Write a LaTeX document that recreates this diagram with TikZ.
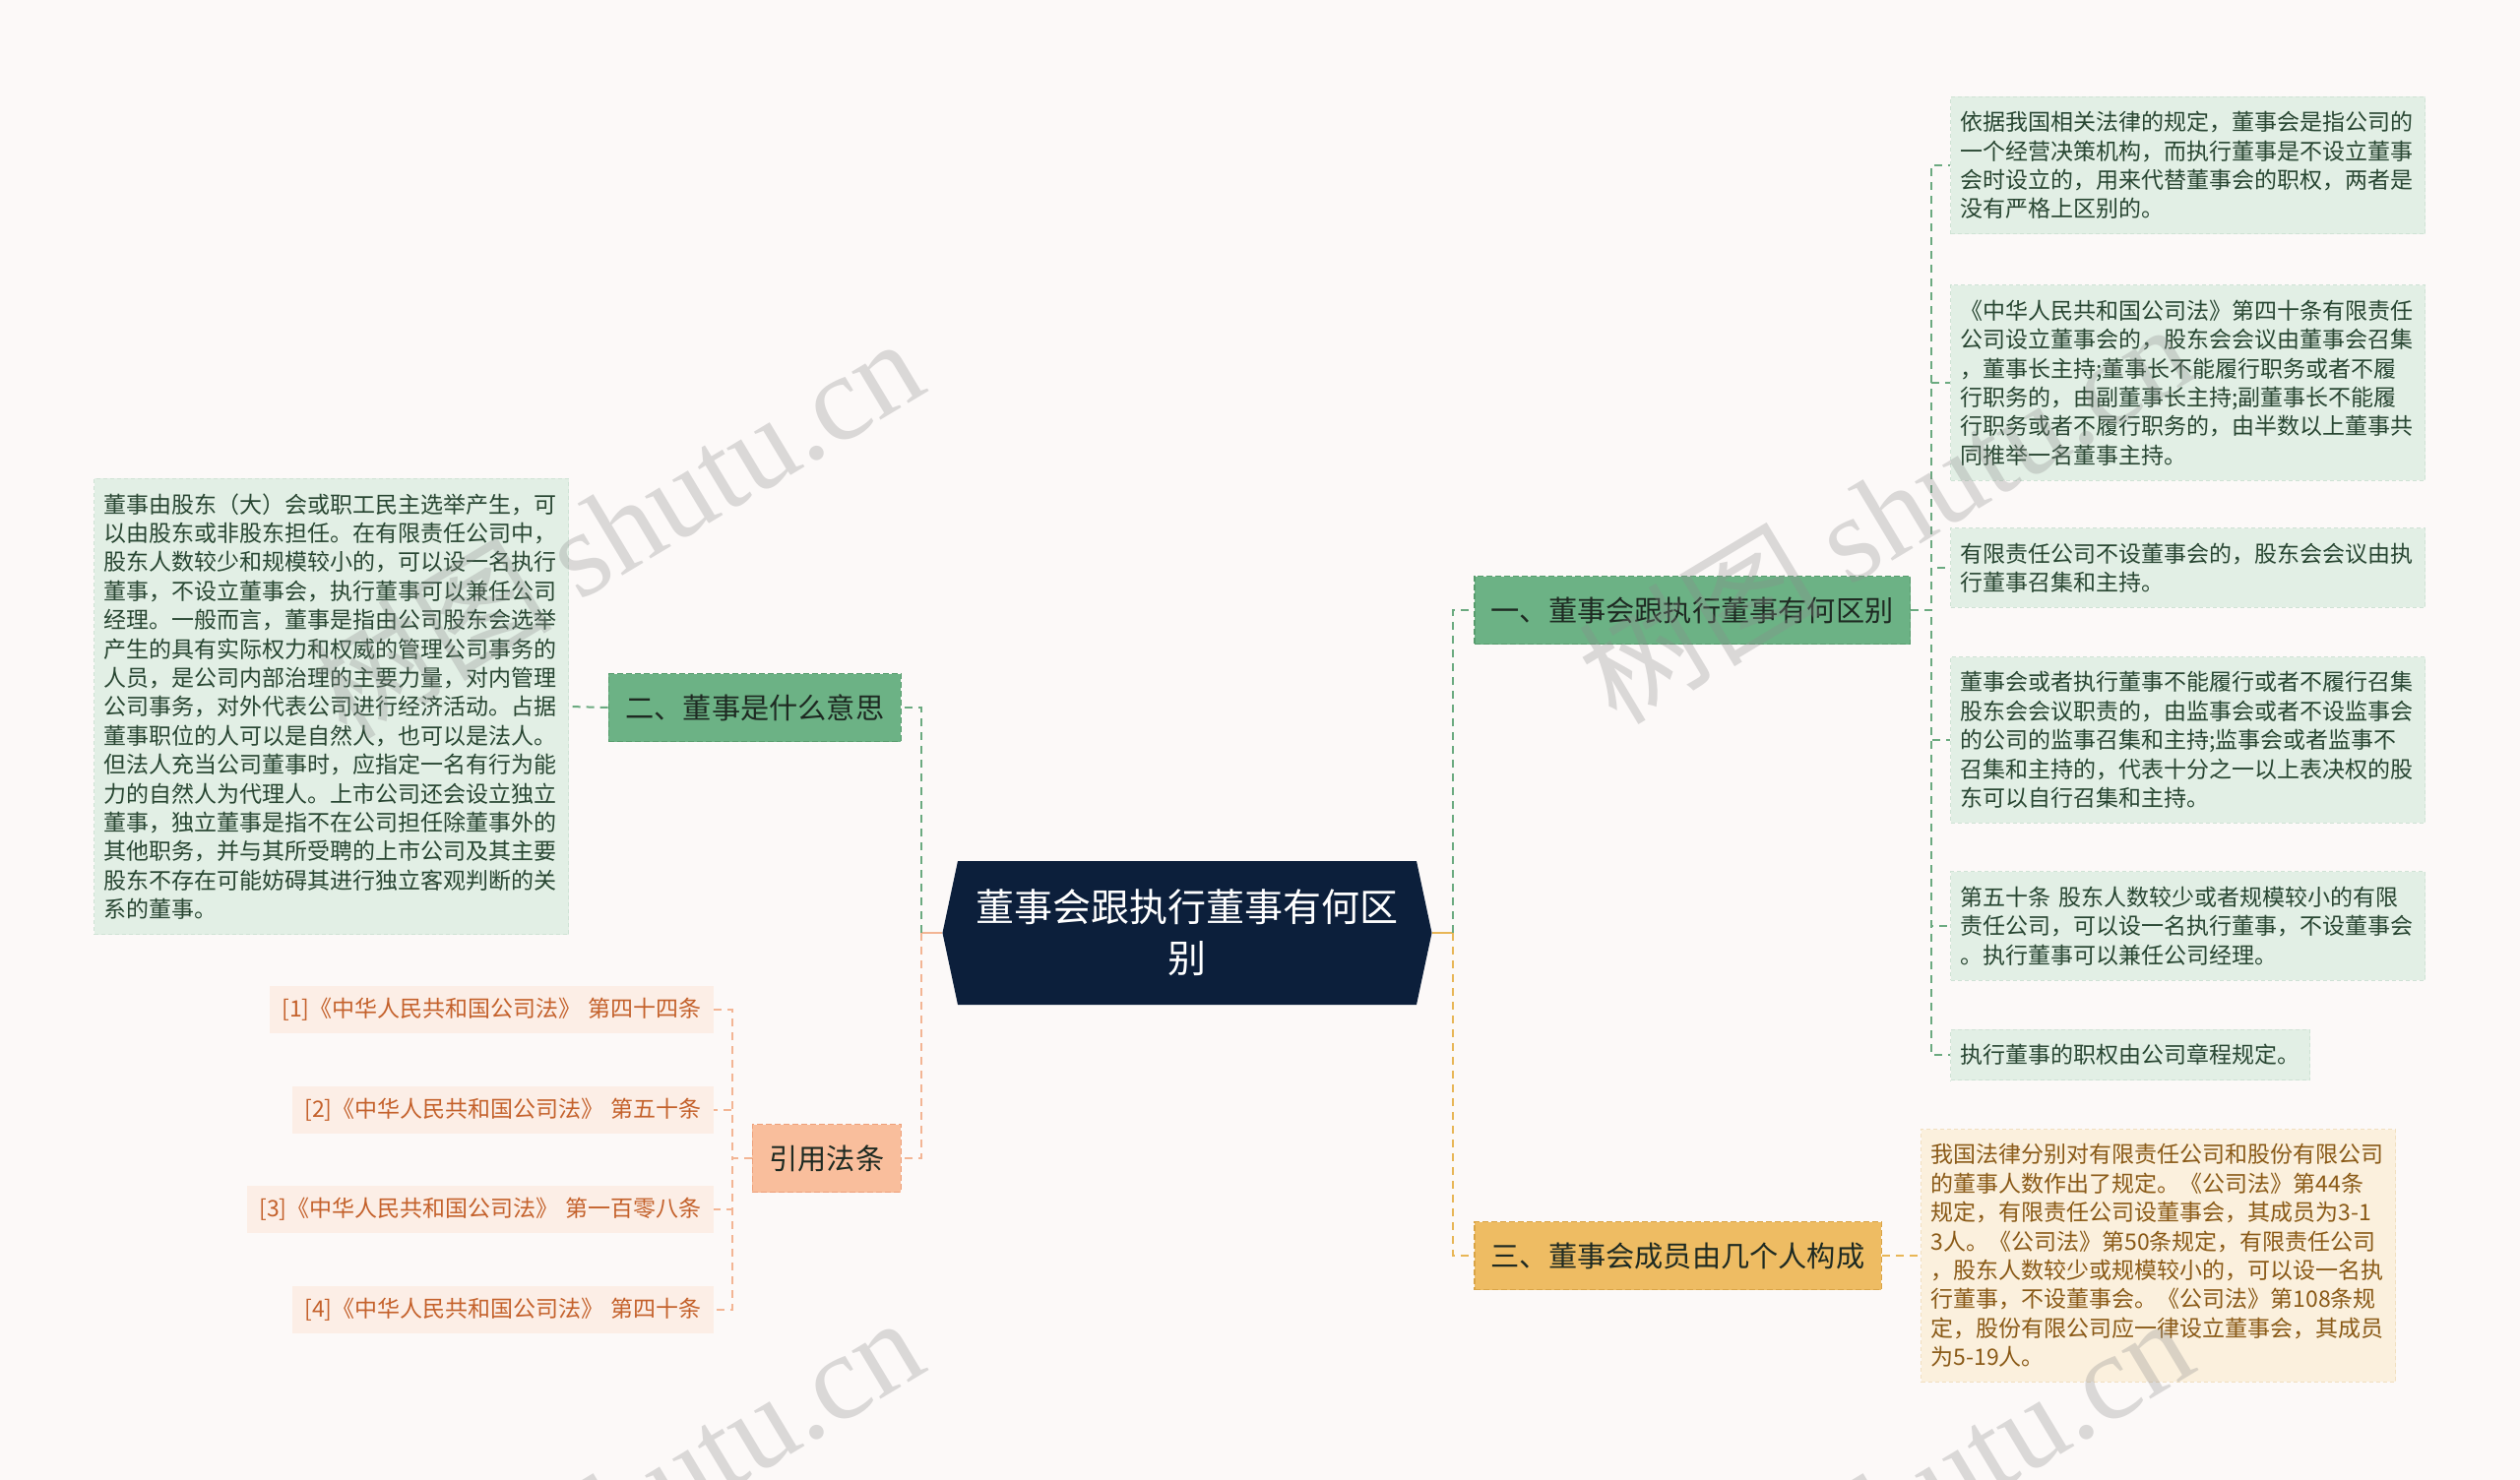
\documentclass[tikz,border=0pt]{standalone}
\usepackage{fontspec}
\setmainfont{Noto Sans CJK SC}
\newfontfamily\wmfont{Liberation Serif}
\usetikzlibrary{positioning,shapes.symbols}

\definecolor{bgcol}{HTML}{FCF9F8}
\definecolor{navy}{HTML}{0C1F3B}
\definecolor{greenfill}{HTML}{6CB285}
\definecolor{greenedge}{HTML}{579C6D}
\definecolor{goldfill}{HTML}{EEBC63}
\definecolor{goldedge}{HTML}{D9A446}
\definecolor{peachfill}{HTML}{F9BE9C}
\definecolor{peachedge}{HTML}{EEA07A}
\definecolor{branchtext}{HTML}{1E2A22}
\definecolor{leafgreen}{HTML}{E2EFE5}
\definecolor{leafgreenedge}{HTML}{CFE2D5}
\definecolor{leafgreentext}{HTML}{284632}
\definecolor{leafgold}{HTML}{FBF0DD}
\definecolor{leafgoldedge}{HTML}{F1DFC0}
\definecolor{leafgoldtext}{HTML}{8A5A17}
\definecolor{citefill}{HTML}{FCEEE6}
\definecolor{citetext}{HTML}{C4612B}
\definecolor{greenline}{HTML}{6BAA80}
\definecolor{goldline}{HTML}{E8B656}
\definecolor{peachline}{HTML}{F3B594}
\definecolor{wmgray}{HTML}{8C8C8C}

\tikzset{
  rootnode/.style={shape=signal, signal to=west and east, signal pointer angle=156,
    fill=navy, text=white, font=\fontsize{19.5}{26}\selectfont,
    text width=215pt, align=center, inner xsep=9pt, inner ysep=4pt, minimum height=73pt},
  branch/.style={font=\fontsize{14.6}{18}\selectfont, text=branchtext, inner xsep=8.5pt,
    minimum height=34.5pt, line width=.75pt, dash pattern=on 3pt off 1.5pt},
  greenbranch/.style={branch, fill=greenfill, draw=greenedge},
  goldbranch/.style={branch, fill=goldfill, draw=goldedge},
  peachbranch/.style={branch, fill=peachfill, draw=peachedge},
  leaf/.style={font=\fontsize{11.5}{14.7}\selectfont, align=left, text width=231pt,
    inner xsep=5pt, inner ysep=7.5pt, line width=.5pt, dash pattern=on 2pt off 1.5pt},
  greenleaf/.style={leaf, fill=leafgreen, draw=leafgreenedge, text=leafgreentext},
  goldleaf/.style={leaf, fill=leafgold, draw=leafgoldedge, text=leafgoldtext},
  citebox/.style={font=\fontsize{11.5}{14.7}\selectfont, fill=citefill, text=citetext,
    inner xsep=6pt, inner ysep=6.2pt},
  link/.style={line width=1pt, dash pattern=on 4pt off 3pt},
  stem/.style={line width=1pt},
  wmark/.style={rotate=31, text=wmgray, opacity=.3, font=\fontsize{62}{68}\selectfont}
}

\begin{document}
\begin{tikzpicture}[x=0.5pt,y=-0.5pt]
\useasboundingbox (0,0) rectangle (2560,1504);
\clip (0,0) rectangle (2560,1504);
\fill[bgcol] (0,0) rectangle (2560,1504);

% centre
\node[rootnode] (root) at (1206,948) {董事会跟执行董事有何区\\别};
\coordinate (jr) at ([xshift=10.5pt]root.east);
\coordinate (jl) at ([xshift=-10.5pt]root.west);

% main topics
\node[greenbranch,anchor=west] (diff) at (1497,620) {一、董事会跟执行董事有何区别};
\node[goldbranch,anchor=west] (size) at (1497,1276) {三、董事会成员由几个人构成};
\node[greenbranch,anchor=east] (mean) at (916,719) {二、董事是什么意思};
\node[peachbranch,anchor=east] (law) at (916,1177) {引用法条};

% details of the difference
\node[greenleaf,anchor=west] (d1) at (1981,168) {依据我国相关法律的规定，董事会是指公司的\\一个经营决策机构，而执行董事是不设立董事\\会时设立的，用来代替董事会的职权，两者是\\没有严格上区别的。};
\node[greenleaf,anchor=west] (d2) at (1981,389) {《中华人民共和国公司法》第四十条有限责任\\公司设立董事会的，股东会会议由董事会召集\\，董事长主持;董事长不能履行职务或者不履\\行职务的，由副董事长主持;副董事长不能履\\行职务或者不履行职务的，由半数以上董事共\\同推举一名董事主持。};
\node[greenleaf,anchor=west] (d3) at (1981,577) {有限责任公司不设董事会的，股东会会议由执\\行董事召集和主持。};
\node[greenleaf,anchor=west] (d4) at (1981,752) {董事会或者执行董事不能履行或者不履行召集\\股东会会议职责的，由监事会或者不设监事会\\的公司的监事召集和主持;监事会或者监事不\\召集和主持的，代表十分之一以上表决权的股\\东可以自行召集和主持。};
\node[greenleaf,anchor=west] (d5) at (1981,941) {第五十条 股东人数较少或者规模较小的有限\\责任公司，可以设一名执行董事，不设董事会\\。执行董事可以兼任公司经理。};
\node[greenleaf,anchor=west,text width=172.5pt] (d6) at (1981,1072) {执行董事的职权由公司章程规定。};

\node[goldleaf,anchor=west] (sizeleaf) at (1951,1276) {我国法律分别对有限责任公司和股份有限公司\\的董事人数作出了规定。《公司法》第44条\\规定，有限责任公司设董事会，其成员为3-1\\3人。《公司法》第50条规定，有限责任公司\\，股东人数较少或规模较小的，可以设一名执\\行董事，不设董事会。《公司法》第108条规\\定，股份有限公司应一律设立董事会，其成员\\为5-19人。};

\node[greenleaf,anchor=east] (meanleaf) at (578,718) {董事由股东（大）会或职工民主选举产生，可\\以由股东或非股东担任。在有限责任公司中，\\股东人数较少和规模较小的，可以设一名执行\\董事，不设立董事会，执行董事可以兼任公司\\经理。一般而言，董事是指由公司股东会选举\\产生的具有实际权力和权威的管理公司事务的\\人员，是公司内部治理的主要力量，对内管理\\公司事务，对外代表公司进行经济活动。占据\\董事职位的人可以是自然人，也可以是法人。\\但法人充当公司董事时，应指定一名有行为能\\力的自然人为代理人。上市公司还会设立独立\\董事，独立董事是指不在公司担任除董事外的\\其他职务，并与其所受聘的上市公司及其主要\\股东不存在可能妨碍其进行独立客观判断的关\\系的董事。};

% cited articles
\node[citebox,anchor=east] (c1) at (725,1026) {[1]《中华人民共和国公司法》\hspace{.3em}第四十四条};
\node[citebox,anchor=east] (c2) at (725,1128) {[2]《中华人民共和国公司法》\hspace{.3em}第五十条};
\node[citebox,anchor=east] (c3) at (725,1229) {[3]《中华人民共和国公司法》\hspace{.3em}第一百零八条};
\node[citebox,anchor=east] (c4) at (725,1331) {[4]《中华人民共和国公司法》\hspace{.3em}第四十条};

% connectors
\draw[stem,goldline] (root.east) -- (jr);
\draw[stem,peachline] (root.west) -- (jl);
\draw[link,greenline] (jr) |- (diff.west);
\draw[link,goldline] (jr) |- (size.west);
\draw[link,greenline] (jl) |- (mean.east);
\draw[link,peachline] (jl) |- (law.east);
\foreach \n in {d1,d2,d3,d4,d5,d6}
  \draw[link,greenline] (diff.east) -- ++(10.5pt,0) |- (\n.west);
\draw[link,goldline] (size.east) -- (sizeleaf.west);
\draw[link,greenline] (mean.west) -- (meanleaf.east);
\foreach \n in {c1,c2,c3,c4}
  \draw[link,peachline] (law.west) -- ++(-10pt,0) |- (\n.east);

% watermarks
\node[wmark] (wm1) at (625,535) {树图 {\wmfont shutu.cn}};
\node[wmark] (wm2) at (1915,520) {树图 {\wmfont shutu.cn}};
\node[wmark] (wm3) at (625,1530) {树图 {\wmfont shutu.cn}};
\node[wmark] (wm4) at (1915,1530) {树图 {\wmfont shutu.cn}};
\end{tikzpicture}
\end{document}
